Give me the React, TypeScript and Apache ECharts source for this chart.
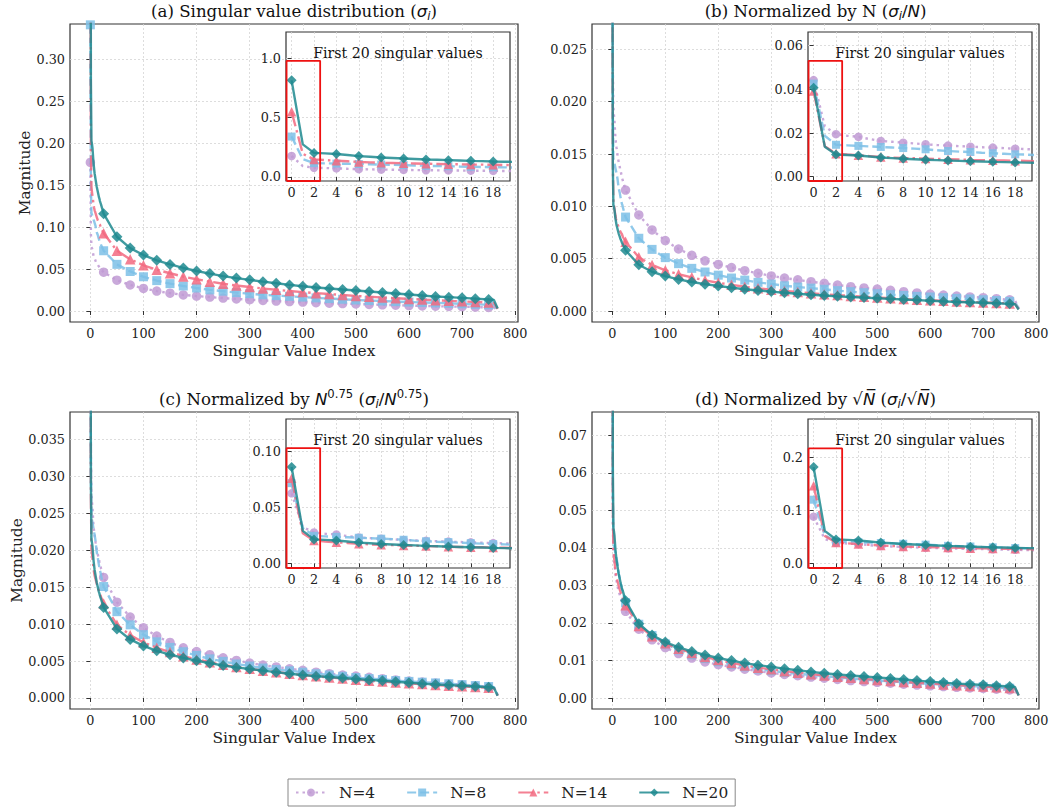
import React, { useEffect, useRef } from "react";
import * as echarts from "echarts";

// Singular value indices sampled along the curves
const SV_INDEX = [0, 1, 2, 3, 4, 5, 6, 7, 8, 9, 10, 11, 12, 13, 14, 15, 16, 17, 18, 19, 20,
  25, 50, 75, 100, 125, 150, 175, 200, 225, 250, 275, 300, 325, 350, 375, 400, 425, 450, 475,
  500, 525, 550, 575, 600, 625, 650, 675, 700, 725, 750, 760, 767];

const SIGMA_N4 = [0.177, 0.092, 0.078, 0.075, 0.073, 0.069, 0.0656, 0.064, 0.0624, 0.061, 0.0594,
  0.058, 0.057, 0.056, 0.0551, 0.054, 0.0533, 0.0523, 0.0514, 0.0505, 0.0497,
  0.0462, 0.0367, 0.031, 0.0269, 0.0237, 0.0213, 0.0192, 0.0178, 0.0166, 0.0154, 0.0144, 0.0134,
  0.0126, 0.0119, 0.0112, 0.0106, 0.0099, 0.0093, 0.0088, 0.0084, 0.0079, 0.0074, 0.0069, 0.0065,
  0.0061, 0.0057, 0.0054, 0.0051, 0.0047, 0.0043, 0.0041, 0.001];
const SIGMA_N8 = [0.341, 0.15, 0.117, 0.115, 0.113, 0.111, 0.109, 0.107, 0.105, 0.103, 0.1005,
  0.097, 0.094, 0.092, 0.0905, 0.088, 0.086, 0.084, 0.082, 0.081, 0.079,
  0.0718, 0.0556, 0.0471, 0.0408, 0.0362, 0.0326, 0.0298, 0.0274, 0.0252, 0.0236, 0.0219, 0.0206,
  0.0193, 0.0183, 0.0175, 0.0166, 0.0156, 0.0148, 0.014, 0.0132, 0.0125, 0.0119, 0.0112, 0.0107,
  0.0102, 0.0097, 0.0092, 0.0086, 0.008, 0.0074, 0.007, 0.002];
const SIGMA_N14 = [0.55, 0.195, 0.148, 0.142, 0.137, 0.132, 0.127, 0.123, 0.12, 0.118, 0.116,
  0.114, 0.112, 0.11, 0.108, 0.1065, 0.105, 0.104, 0.103, 0.101, 0.099,
  0.0926, 0.0719, 0.0616, 0.0545, 0.0492, 0.045, 0.041, 0.0378, 0.035, 0.0325, 0.0303, 0.0286,
  0.0268, 0.0253, 0.0238, 0.0225, 0.0213, 0.0202, 0.019, 0.018, 0.017, 0.0161, 0.0152, 0.0144,
  0.0136, 0.0128, 0.0121, 0.0115, 0.0108, 0.0101, 0.0096, 0.0025];
const SIGMA_N20 = [0.815, 0.275, 0.203, 0.199, 0.194, 0.185, 0.176, 0.17, 0.164, 0.16, 0.156,
  0.152, 0.148, 0.145, 0.142, 0.139, 0.136, 0.134, 0.131, 0.129, 0.127,
  0.116, 0.0885, 0.075, 0.0667, 0.0604, 0.0555, 0.0513, 0.0477, 0.0446, 0.0416, 0.0392, 0.0371,
  0.035, 0.0331, 0.0311, 0.0295, 0.028, 0.0269, 0.0256, 0.0244, 0.0232, 0.022, 0.0208, 0.0196,
  0.0184, 0.0172, 0.0165, 0.0157, 0.0147, 0.0137, 0.0131, 0.003];

const N_VALUES = [4, 8, 14, 20];
const SERIES_NAMES = ["N=4", "N=8", "N=14", "N=20"];
const SIGMAS = [SIGMA_N4, SIGMA_N8, SIGMA_N14, SIGMA_N20];
// normalisation exponent of N per panel: sigma / N^p
const PANEL_EXPONENTS = [0, 1, 0.75, 0.5];

const X_TICKS_MAIN = [0, 100, 200, 300, 400, 500, 600, 700, 800];
const X_TICKS_INSET = [0, 2, 4, 6, 8, 10, 12, 14, 16, 18];
const Y_TICKS_A = [0, 0.05, 0.1, 0.15, 0.2, 0.25, 0.3];
const Y_TICKS_B = [0, 0.005, 0.01, 0.015, 0.02, 0.025];
const Y_TICKS_C = [0, 0.005, 0.01, 0.015, 0.02, 0.025, 0.03, 0.035];
const Y_TICKS_D = [0, 0.01, 0.02, 0.03, 0.04, 0.05, 0.06, 0.07];
const INSET_Y_TICKS_A = [0, 0.5, 1.0];
const INSET_Y_TICKS_B = [0, 0.02, 0.04, 0.06];
const INSET_Y_TICKS_C = [0, 0.05, 0.1];
const INSET_Y_TICKS_D = [0, 0.1, 0.2];

// zoom-box (red rectangle) extent in each inset: x from/to, top value
const ZOOM_BOX_X = [-0.45, 2.55];
const ZOOM_BOX_TOP = [0.98, 0.0531, 0.103, 0.2177];

const COLORS = ["#bf9ad3", "#7dbfe6", "#f26a80", "#1f8a8f"];
const SYMBOLS = ["circle", "rect", "triangle", "diamond"];
const SYMBOL_SIZES: any[] = [9.5, 9, 10.5, [11, 11]];
const INSET_SYMBOL_SIZES: any[] = [8.5, 8, 9.5, [10, 10]];
const DASHES: any[] = [[2.5, 4], [9, 4], [15, 4, 2.5, 4], "solid"];

const SERIF = "'DejaVu Serif', serif";
const MATH = "'DejaVu Sans', sans-serif";
const TICK_FS = 12.8;
const LABEL_FS = 15.4;
const TITLE_FS = 16.6;

// layout (page pixels)
const MAIN_GRIDS = [
  { left: 70, top: 24, width: 448, height: 298 },
  { left: 592, top: 24, width: 447, height: 298 },
  { left: 70, top: 412, width: 448, height: 297 },
  { left: 592, top: 412, width: 447, height: 297 },
];
const INSET_GRIDS = [
  { left: 286, top: 32, width: 224, height: 149 },
  { left: 808, top: 32, width: 224, height: 149 },
  { left: 286, top: 419, width: 224, height: 149 },
  { left: 808, top: 419, width: 224, height: 149 },
];
const MAIN_Y_RANGE = [[-0.0131, 0.342, 0.05, 2], [-0.00105, 0.02742, 0.005, 3], [-0.00149, 0.03873, 0.005, 3], [-0.00292, 0.07619, 0.01, 2]];
const MAIN_Y_TICKS = [Y_TICKS_A, Y_TICKS_B, Y_TICKS_C, Y_TICKS_D];
const INSET_Y_RANGE = [[-0.034, 1.223, 0.5, 1], [-0.00197, 0.0663, 0.02, 2], [-0.0041, 0.129, 0.05, 2], [-0.0087, 0.2733, 0.1, 1]];
const INSET_Y_TICKS = [INSET_Y_TICKS_A, INSET_Y_TICKS_B, INSET_Y_TICKS_C, INSET_Y_TICKS_D];

function valueAxis(gridIndex: number, min: number, max: number, step: number, ticks: number[], digits: number, z: number, extra: any = {}) {
  return {
    type: "value", gridIndex, min, max, minInterval: step, maxInterval: step, z,
    axisLine: { show: false },
    axisTick: { show: true, customValues: ticks, length: 4, lineStyle: { color: "#333", width: 1 } },
    axisLabel: {
      customValues: ticks, formatter: (v: number) => v.toFixed(digits),
      fontFamily: SERIF, fontSize: TICK_FS, color: "#222", margin: 5,
    },
    splitLine: { show: true, lineStyle: { color: "#d4d4d4", width: 0.8, type: [2, 2] } },
    ...extra,
  };
}

const TITLES = [
  "(a) Singular value distribution ({mi|σ}{sub|i})",
  "(b) Normalized by N ({mi|σ}{sub|i}{m|/}{mi|N})",
  "(c) Normalized by {mi|N}{sup|0.75} ({mi|σ}{sub|i}{m|/}{mi|N}{sup|0.75})",
  "(d) Normalized by {m|√}{mi|N\u0305} ({mi|σ}{sub|i}{m|/√}{mi|N\u0305})",
];

function buildOption() {
  const grid: any[] = [];
  const xAxis: any[] = [];
  const yAxis: any[] = [];
  const series: any[] = [];
  const graphic: any[] = [];

  for (let p = 0; p < 4; p++) {
    const mg = MAIN_GRIDS[p];
    grid.push({ ...mg, show: true, borderColor: "#333", borderWidth: 1.2, backgroundColor: "transparent", z: 0 });
    const [ymin, ymax, ystep, ydig] = MAIN_Y_RANGE[p];
    xAxis.push(valueAxis(p * 2, -38.35, 805.35, 100, X_TICKS_MAIN, 0, 1, {
      name: "Singular Value Index", nameLocation: "middle", nameGap: 21,
      nameTextStyle: { fontFamily: SERIF, fontSize: LABEL_FS, color: "#222" },
    }));
    yAxis.push(valueAxis(p * 2, ymin, ymax, ystep, MAIN_Y_TICKS[p], ydig, 1,
      p % 2 === 0 ? {
        name: "Magnitude", nameLocation: "middle", nameGap: p === 0 ? 37 : 46,
        nameTextStyle: { fontFamily: SERIF, fontSize: LABEL_FS, color: "#222" },
      } : {}));

    const ig = INSET_GRIDS[p];
    grid.push({ ...ig, show: true, borderColor: "#333", borderWidth: 1.2, backgroundColor: "#ffffff", z: 10 });
    const [iymin, iymax, iystep, iydig] = INSET_Y_RANGE[p];
    xAxis.push(valueAxis(p * 2 + 1, -0.5, 19.5, 2, X_TICKS_INSET, 0, 11));
    yAxis.push(valueAxis(p * 2 + 1, iymin, iymax, iystep, INSET_Y_TICKS[p], iydig, 11));

    for (let s = 0; s < 4; s++) {
      const div = Math.pow(N_VALUES[s], PANEL_EXPONENTS[p]);
      const sig = SIGMAS[s];
      const common = {
        type: "line", name: SERIES_NAMES[s], symbol: SYMBOLS[s], symbolSize: SYMBOL_SIZES[s],
        color: COLORS[s], clip: true, showSymbol: true,
        lineStyle: { width: 2.4, type: DASHES[s], opacity: 0.85 },
        itemStyle: { color: COLORS[s], opacity: 0.85 },
        emphasis: { disabled: true },
      };
      series.push({
        ...common, xAxisIndex: p * 2, yAxisIndex: p * 2, z: 2 + s * 0.1,
        data: SV_INDEX.map((x, i) => ({
          value: [x, sig[i] / div],
          symbol: x % 25 === 0 && x <= 750 ? SYMBOLS[s] : "none",
        })),
      });
      series.push({
        ...common, xAxisIndex: p * 2 + 1, yAxisIndex: p * 2 + 1, z: 12 + s * 0.1,
        symbolSize: INSET_SYMBOL_SIZES[s],
        data: SV_INDEX.filter((x) => x <= 20).map((x, i) => ({
          value: [x, sig[i] / div],
          symbol: x % 2 === 0 && x <= 18 ? SYMBOLS[s] : "none",
        })),
      });
    }

    // red zoom rectangle in the inset, drawn through the inset's axes
    const [bx0, bx1] = ZOOM_BOX_X;
    series.push({
      type: "line", name: "zoom box", xAxisIndex: p * 2 + 1, yAxisIndex: p * 2 + 1,
      z: 13, clip: false, symbol: "none", silent: true,
      lineStyle: { color: "#ee1111", width: 1.8 },
      data: [[bx0, iymin], [bx0, ZOOM_BOX_TOP[p]], [bx1, ZOOM_BOX_TOP[p]], [bx1, iymin], [bx0, iymin]],
    });

    // panel title
    graphic.push({
      type: "text", z: 100,
      x: mg.left + mg.width / 2, y: mg.top - 13,
      style: {
        text: TITLES[p], align: "center", verticalAlign: "middle",
        fontFamily: SERIF, fontSize: TITLE_FS, fill: "#111",
        rich: {
          mi: { fontFamily: MATH, fontStyle: "italic", fontSize: TITLE_FS, fill: "#111", lineHeight: 22 },
          m: { fontFamily: MATH, fontSize: TITLE_FS, fill: "#111", lineHeight: 22 },
          sub: { fontFamily: MATH, fontStyle: "italic", fontSize: 11.6, fill: "#111", verticalAlign: "bottom", lineHeight: 12 },
          sup: { fontFamily: MATH, fontSize: 11.6, fill: "#111", verticalAlign: "top", lineHeight: 12 },
        },
      },
    });
    // inset title
    graphic.push({
      type: "text", z: 100,
      x: ig.left + ig.width / 2, y: ig.top + 21,
      style: {
        text: "First 20 singular values", align: "center", verticalAlign: "middle",
        fontFamily: SERIF, fontSize: 14.1, fill: "#111",
      },
    });
  }

  return {
    animation: false,
    backgroundColor: "#ffffff",
    grid, xAxis, yAxis, series, graphic,
    legend: {
      data: SERIES_NAMES,
      left: 288, top: 779,
      orient: "horizontal",
      padding: [6, 7, 6, 7],
      itemWidth: 30, itemHeight: 10, itemGap: 31,
      borderColor: "#888", borderWidth: 1, borderRadius: 0,
      backgroundColor: "#fff",
      selectedMode: false,
      textStyle: { fontFamily: SERIF, fontSize: LABEL_FS, color: "#222", padding: [0, 0, 0, 8] },
    },
  };
}

export default function App() {
  const ref = useRef<HTMLDivElement>(null);
  useEffect(() => {
    if (!ref.current) return;
    const chart = echarts.init(ref.current, undefined, { renderer: "svg" });
    chart.setOption(buildOption() as any);
    return () => chart.dispose();
  }, []);
  return (
    <div
      ref={ref}
      style={{ position: "absolute", left: 0, top: 0, width: 1060, height: 810, background: "#fff" }}
    />
  );
}
